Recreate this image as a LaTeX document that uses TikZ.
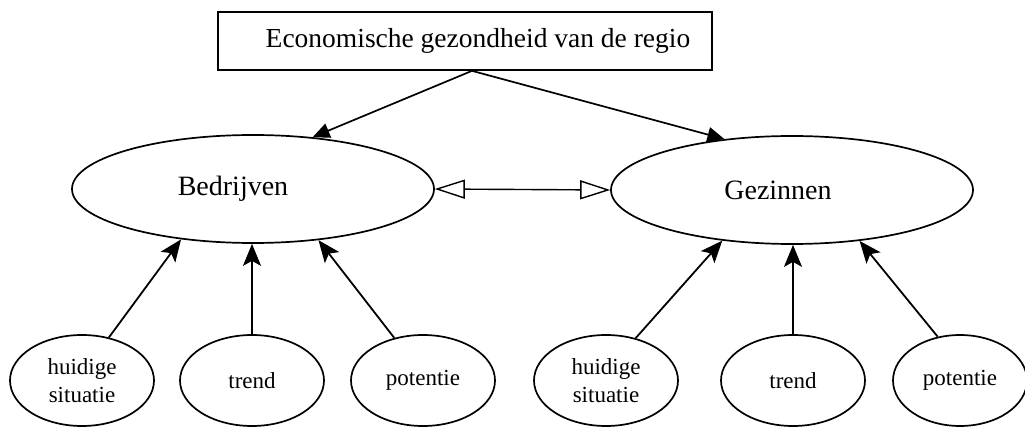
\documentclass[tikz,border=0pt]{standalone}
\usepackage{fontspec}
\setmainfont{Liberation Serif}
\usetikzlibrary{shapes.geometric,arrows.meta}
\begin{document}
\begin{tikzpicture}[x=1pt,y=-1pt,
  big/.style={draw,ellipse,line width=1.7pt,inner sep=0pt,minimum width=362pt,minimum height=108pt,font=\fontsize{28}{30}\selectfont},
  small/.style={draw,ellipse,line width=1.7pt,inner sep=0pt,minimum width=144pt,minimum height=91pt,align=center,font=\fontsize{23}{28}\selectfont},
  toparrow/.style={line width=1.7pt,-{Triangle[length=17pt,width=15pt]}},
  uparrow/.style={line width=1.8pt,-{Stealth[length=22pt,width=18pt,inset=5pt]}},
  linkarrow/.style={line width=1.4pt,{Triangle[open,length=30pt,width=19pt,line width=1.4pt]}-{Triangle[open,length=30pt,width=19pt,line width=1.4pt]}}]
\clip (0,0) rectangle (1025,427);
\fill[white] (0,0) rectangle (1025,427);
\node[draw,line width=1.7pt,rectangle,inner sep=0pt,minimum width=494pt,minimum height=58pt,font=\fontsize{27.5}{30}\selectfont] (title) at (465,41) {\hspace*{26pt}Economische gezondheid van de regio};
\node[big] (bed) at (253,189) {Bedrijven\hspace*{40pt}};
\node[big] (gez) at (792,190) {Gezinnen\hspace*{28pt}};
\node[small] (h1) at (82,380.5) {huidige\\situatie};
\node[small] (t1) at (252,380.5) {trend};
\node[small] (p1) at (423,380.5) {potentie};
\node[small] (h2) at (606,380.5) {huidige\\situatie};
\node[small] (t2) at (793,380.5) {trend};
\node[small,minimum width=134pt] (p2) at (960,380.5) {potentie};
\draw[toparrow] ([xshift=7pt]title.south) -- (bed.41);
\draw[toparrow] ([xshift=7pt]title.south) -- (gez.143);
\draw[linkarrow] (bed.east) -- (gez.west);
\draw[uparrow] (h1.58) -- (bed.215);
\draw[uparrow] (t1.north) -- (t1.north |- bed.south);
\draw[uparrow] (p1.124) -- (bed.322);
\draw[uparrow] (h2.55) -- (gez.216);
\draw[uparrow] (t2.north) -- (t2.north |- gez.south);
\draw[uparrow] (p2.117) -- (gez.323);
\end{tikzpicture}
\end{document}
